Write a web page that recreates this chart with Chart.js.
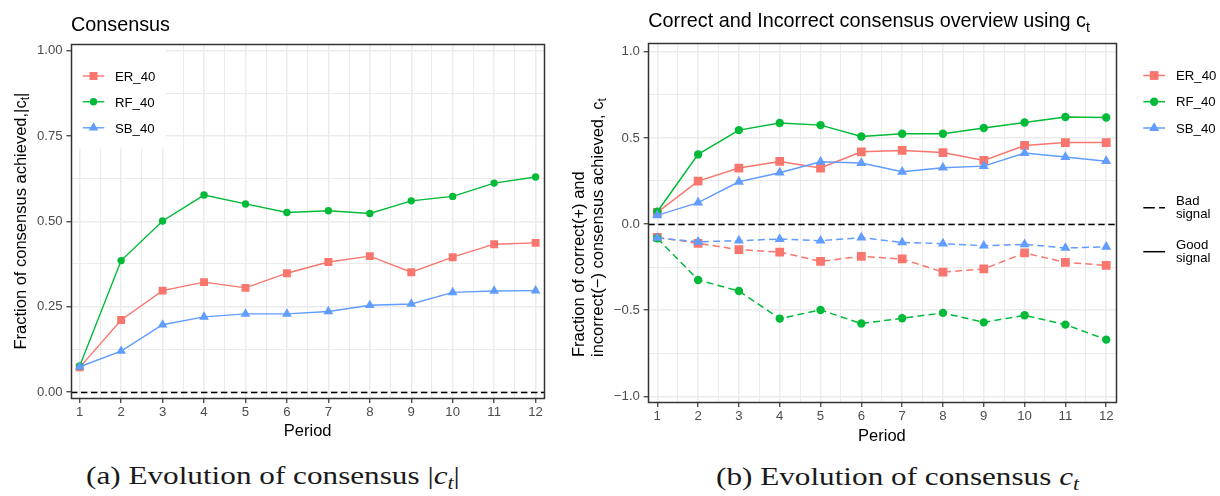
<!DOCTYPE html>
<html>
<head>
<meta charset="utf-8">
<script src="https://cdn.jsdelivr.net/npm/chart.js"></script>
<style>
  html, body { margin: 0; padding: 0; background: #ffffff; }
  body { width: 1220px; height: 496px; overflow: hidden; position: relative; }
  #c1 { position: absolute; left: 0; top: 0; }
  #c2 { position: absolute; left: 560px; top: 0; }
  .cap { position: absolute; font-family: "Liberation Serif", "Times New Roman", serif; font-size: 26px; line-height: 26px;
         white-space: nowrap; color: #1a1a1a; transform: scaleX(1.2); transform-origin: 0 0; }
  .cap sub { font-size: 0.7em; vertical-align: -0.28em; line-height: 0; }
</style>
</head>
<body>
<canvas id="c1" width="560" height="450"></canvas>
<canvas id="c2" width="660" height="450"></canvas>
<div class="cap" style="left:86px; top:463px;">(a) Evolution of consensus |<i>c<sub>t</sub></i>|</div>
<div class="cap" style="left:716px; top:464px;">(b) Evolution of consensus <i>c<sub>t</sub></i></div>
<script>
// ---------------- data ----------------
const periods = [1, 2, 3, 4, 5, 6, 7, 8, 9, 10, 11, 12];
const seriesNames = ['ER_40', 'RF_40', 'SB_40'];

// (a) |c_t|
const consensusER = [0.072, 0.211, 0.297, 0.322, 0.305, 0.348, 0.381, 0.398, 0.351, 0.395, 0.433, 0.437];
const consensusRF = [0.076, 0.385, 0.501, 0.577, 0.551, 0.526, 0.531, 0.523, 0.560, 0.573, 0.612, 0.630];
const consensusSB = [0.074, 0.120, 0.197, 0.220, 0.229, 0.229, 0.236, 0.254, 0.258, 0.292, 0.296, 0.297];

// (b) c_t, good signal (correct, +) and bad signal (incorrect, -)
const goodER = [0.067, 0.249, 0.325, 0.363, 0.325, 0.419, 0.427, 0.415, 0.369, 0.456, 0.473, 0.473];
const goodRF = [0.071, 0.404, 0.545, 0.586, 0.574, 0.508, 0.524, 0.524, 0.557, 0.589, 0.621, 0.618];
const goodSB = [0.050, 0.124, 0.245, 0.298, 0.361, 0.354, 0.303, 0.327, 0.336, 0.412, 0.389, 0.365];
const badER = [-0.078, -0.112, -0.149, -0.163, -0.217, -0.188, -0.203, -0.279, -0.261, -0.168, -0.223, -0.240];
const badRF = [-0.083, -0.325, -0.389, -0.549, -0.499, -0.578, -0.547, -0.516, -0.571, -0.530, -0.584, -0.671];
const badSB = [-0.081, -0.103, -0.097, -0.087, -0.097, -0.079, -0.107, -0.114, -0.126, -0.118, -0.139, -0.133];

// tick labels / break values
const xMajorTicks = periods;
const leftYMajorTicks = [0, 0.25, 0.5, 0.75, 1.0];
const leftYMinorTicks = [0.125, 0.375, 0.625, 0.875];
const rightYMajorTicks = [-1.0, -0.5, 0, 0.5, 1.0];
const rightYMinorTicks = [-0.75, -0.25, 0.25, 0.75];
const signalNames = [['Bad', 'signal'], ['Good', 'signal']];

// ---------------- style ----------------
const FONT = '"Liberation Sans", Arial, Helvetica, sans-serif';
const COLORS = ['#F8766D', '#00BA38', '#619CFF'];
const STYLES = ['rect', 'circle', 'triangle'];
const GRID = '#EBEBEB', DARK = '#333333', TICKTXT = '#4D4D4D';
const DASH = [7, 4.2];

const xMinorTicks = periods.slice(0, -1).map(p => p + 0.5);
const near = (v, step) => Math.abs(v / step - Math.round(v / step)) < 1e-6;

function pts(ys) { return periods.map((p, i) => ({ x: p, y: ys[i] })); }

function dataset(label, ys, idx, radius, lw, dashed) {
  return {
    label, data: pts(ys),
    borderColor: COLORS[idx], backgroundColor: COLORS[idx],
    pointBackgroundColor: COLORS[idx], pointBorderWidth: 0,
    pointStyle: STYLES[idx], pointRadius: radius[idx], pointHoverRadius: radius[idx],
    borderWidth: lw, borderDash: dashed ? DASH : [], borderCapStyle: 'butt',
    tension: 0, fill: false, order: 3 - idx
  };
}

function drawMarker(ctx, style, x, y, r, color) {
  ctx.save();
  ctx.fillStyle = color;
  ctx.beginPath();
  if (style === 'rect') {
    const s = Math.SQRT1_2 * r; ctx.rect(x - s, y - s, 2 * s, 2 * s);
  } else if (style === 'circle') {
    ctx.arc(x, y, r, 0, Math.PI * 2);
  } else {
    let a = 0;
    ctx.moveTo(x + Math.sin(a) * r, y - Math.cos(a) * r);
    a += 2 * Math.PI / 3; ctx.lineTo(x + Math.sin(a) * r, y - Math.cos(a) * r);
    a += 2 * Math.PI / 3; ctx.lineTo(x + Math.sin(a) * r, y - Math.cos(a) * r);
    ctx.closePath();
  }
  ctx.fill();
  ctx.restore();
}

// draw a run of text segments [text, isSubscript]
function runText(ctx, segs, x, y, size, color, align) {
  let w = 0;
  const parts = segs.map(([t, sub]) => {
    ctx.font = (sub ? size * 0.72 : size) + 'px ' + FONT;
    const m = ctx.measureText(t).width; w += m; return { t, sub, m };
  });
  let cx = align === 'center' ? x - w / 2 : x;
  ctx.fillStyle = color; ctx.textAlign = 'left'; ctx.textBaseline = 'alphabetic';
  for (const p of parts) {
    ctx.font = (p.sub ? size * 0.72 : size) + 'px ' + FONT;
    ctx.fillText(p.t, cx, p.sub ? y + size * 0.22 : y);
    cx += p.m;
  }
}

function makeScales(o) {
  const yTicks = o.yMajor.concat(o.yMinor).sort((a, b) => a - b);
  const xTicks = xMajorTicks.concat(xMinorTicks).sort((a, b) => a - b);
  return {
    x: {
      type: 'linear', min: o.xmin, max: o.xmax,
      afterBuildTicks: s => { s.ticks = xTicks.map(v => ({ value: v })); },
      afterFit: s => { s.height = o.xh; },
      ticks: {
        autoSkip: false, maxRotation: 0, minRotation: 0, padding: 2, color: TICKTXT,
        font: { family: FONT, size: 13.2 },
        callback: v => near(v, 1) ? String(Math.round(v)) : ''
      },
      grid: {
        color: GRID,
        lineWidth: c => (c.tick && !near(c.tick.value, 1)) ? 1 : 1.5,
        tickColor: c => (c.tick && !near(c.tick.value, 1)) ? 'rgba(0,0,0,0)' : DARK,
        tickLength: 4.6, tickWidth: 1.2
      },
      border: { display: false }
    },
    y: {
      type: 'linear', min: o.ymin, max: o.ymax,
      afterBuildTicks: s => { s.ticks = yTicks.map(v => ({ value: v })); },
      afterFit: s => { s.width = o.yw; },
      ticks: {
        autoSkip: false, padding: 3.8, color: TICKTXT,
        font: { family: FONT, size: 13.2 },
        callback: v => near(v, o.yStep) ? o.fmt(v) : ''
      },
      grid: {
        color: GRID,
        lineWidth: c => (c.tick && !near(c.tick.value, o.yStep)) ? 1 : 1.5,
        tickColor: c => (c.tick && !near(c.tick.value, o.yStep)) ? 'rgba(0,0,0,0)' : DARK,
        tickLength: 4.6, tickWidth: 1.2
      },
      border: { display: false }
    }
  };
}

function zeroLine(chart) {
  const { ctx, chartArea: a, scales: { y } } = chart;
  const py = Math.round(y.getPixelForValue(0)) + 0.5;
  ctx.save();
  ctx.strokeStyle = '#000'; ctx.lineWidth = 1.4; ctx.setLineDash([6.4, 3.6]);
  ctx.beginPath(); ctx.moveTo(a.left, py); ctx.lineTo(a.right, py); ctx.stroke();
  ctx.restore();
}

function panelBorder(chart) {
  const { ctx, chartArea: a } = chart;
  ctx.save(); ctx.strokeStyle = DARK; ctx.lineWidth = 1.5;
  ctx.strokeRect(Math.round(a.left) + 0.5, Math.round(a.top) + 0.5,
                 Math.round(a.right) - Math.round(a.left), Math.round(a.bottom) - Math.round(a.top));
  ctx.restore();
}

function seriesLegend(ctx, x1, x2, tx, ys, radius, lw) {
  seriesNames.forEach((name, i) => {
    ctx.save();
    ctx.strokeStyle = COLORS[i]; ctx.lineWidth = lw;
    ctx.beginPath(); ctx.moveTo(x1, ys[i]); ctx.lineTo(x2, ys[i]); ctx.stroke();
    ctx.restore();
    drawMarker(ctx, STYLES[i], (x1 + x2) / 2, ys[i], radius[i], COLORS[i]);
    ctx.font = '13.2px ' + FONT; ctx.fillStyle = '#000'; ctx.textAlign = 'left'; ctx.textBaseline = 'alphabetic';
    ctx.fillText(name, tx, ys[i] + 4.7);
  });
}

const baseOptions = {
  responsive: false, animation: false, devicePixelRatio: 1,
  plugins: { legend: { display: false }, title: { display: false }, tooltip: { enabled: false } },
  events: []
};

// ---------------- chart (a) ----------------
const radiusA = [5.6, 3.7, 5.6];
new Chart(document.getElementById('c1'), {
  type: 'line',
  data: { datasets: [
    dataset(seriesNames[0], consensusER, 0, radiusA, 1.4, false),
    dataset(seriesNames[1], consensusRF, 1, radiusA, 1.4, false),
    dataset(seriesNames[2], consensusSB, 2, radiusA, 1.4, false)
  ] },
  options: Object.assign({}, baseOptions, {
    layout: { padding: { left: 0, top: 44, right: 15.7, bottom: 0 } },
    scales: makeScales({ xmin: 0.79, xmax: 12.21, ymin: -0.0185, ymax: 1.0196, xh: 51.7, yw: 71,
      yMajor: leftYMajorTicks, yMinor: leftYMinorTicks, yStep: 0.25, fmt: v => v.toFixed(2) })
  }),
  plugins: [{
    id: 'decorA',
    beforeDatasetsDraw: chart => zeroLine(chart),
    afterDraw: chart => {
      const { ctx, chartArea: a } = chart;
      // legend box
      ctx.save(); ctx.fillStyle = '#fff'; ctx.fillRect(a.left, a.top, 166 - a.left, 148.5 - a.top); ctx.restore();
      seriesLegend(ctx, 82.7, 104.3, 115, [76, 101.8, 127.8], radiusA, 1.4);
      panelBorder(chart);
      // title
      runText(ctx, [['Consensus', false]], a.left, 31, 19.8, '#000', 'left');
      // x title
      runText(ctx, [['Period', false]], (a.left + a.right) / 2, 436, 16.5, '#000', 'center');
      // y title
      ctx.save(); ctx.translate(25.5, (a.top + a.bottom) / 2); ctx.rotate(-Math.PI / 2);
      runText(ctx, [['Fraction of consensus achieved,|c', false], ['t', true], ['|', false]], 0, 0, 16.5, '#000', 'center');
      ctx.restore();
    }
  }]
});

// ---------------- chart (b) ----------------
const radiusB = [6.2, 4.2, 5.8];
new Chart(document.getElementById('c2'), {
  type: 'line',
  data: { datasets: [
    dataset(seriesNames[0], goodER, 0, radiusB, 1.5, false),
    dataset(seriesNames[1], goodRF, 1, radiusB, 1.5, false),
    dataset(seriesNames[2], goodSB, 2, radiusB, 1.5, false),
    dataset(seriesNames[0], badER, 0, radiusB, 1.5, true),
    dataset(seriesNames[1], badRF, 1, radiusB, 1.5, true),
    dataset(seriesNames[2], badSB, 2, radiusB, 1.5, true)
  ] },
  options: Object.assign({}, baseOptions, {
    layout: { padding: { left: 0, top: 43.3, right: 104.4, bottom: 0 } },
    scales: makeScales({ xmin: 0.78, xmax: 12.23, ymin: -1.035, ymax: 1.049, xh: 47.7, yw: 88.3,
      yMajor: rightYMajorTicks, yMinor: rightYMinorTicks, yStep: 0.5, fmt: v => v.toFixed(1).replace('-', '\u2212') })
  }),
  plugins: [{
    id: 'decorB',
    beforeDatasetsDraw: chart => zeroLine(chart),
    afterDraw: chart => {
      const { ctx, chartArea: a } = chart;
      panelBorder(chart);
      // title
      runText(ctx, [['Correct and Incorrect consensus overview using c', false], ['t', true]], a.left, 27.3, 19.8, '#000', 'left');
      // x title
      runText(ctx, [['Period', false]], (a.left + a.right) / 2, 440.5, 16.5, '#000', 'center');
      // y title (two left-aligned lines, rotated)
      ctx.save(); ctx.translate(0, 357); ctx.rotate(-Math.PI / 2);
      runText(ctx, [['Fraction of correct(+) and', false]], 0, 23.8, 16.5, '#000', 'left');
      runText(ctx, [['incorrect(\u2212) consensus achieved, c', false], ['t', true]], 0, 42.8, 16.5, '#000', 'left');
      ctx.restore();
      // legend: series
      seriesLegend(ctx, 583.3, 605, 616, [75.5, 101.7, 128], radiusB, 1.5);
      // legend: signal line types
      ctx.save(); ctx.strokeStyle = '#000'; ctx.lineWidth = 1.5;
      ctx.setLineDash([11.5, 4.3]);
      ctx.beginPath(); ctx.moveTo(583.3, 207.7); ctx.lineTo(605, 207.7); ctx.stroke();
      ctx.setLineDash([]);
      ctx.beginPath(); ctx.moveTo(583.3, 251.7); ctx.lineTo(605, 251.7); ctx.stroke();
      ctx.restore();
      ctx.font = '13.2px ' + FONT; ctx.fillStyle = '#000'; ctx.textAlign = 'left'; ctx.textBaseline = 'alphabetic';
      ctx.fillText(signalNames[0][0], 616, 205.3);
      ctx.fillText(signalNames[0][1], 616, 218.3);
      ctx.fillText(signalNames[1][0], 616, 249.3);
      ctx.fillText(signalNames[1][1], 616, 262.3);
    }
  }]
});
</script>
</body>
</html>
